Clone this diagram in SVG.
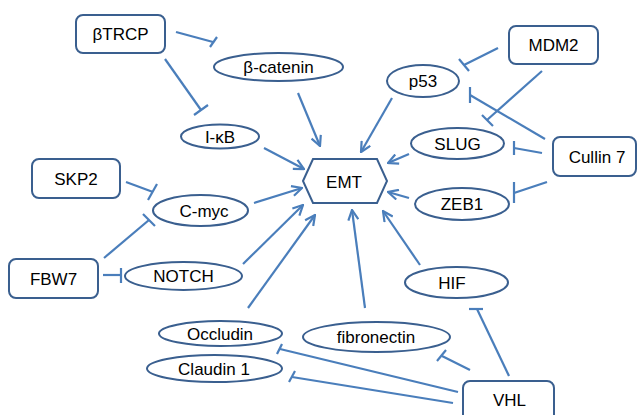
<svg xmlns="http://www.w3.org/2000/svg" width="638" height="415" viewBox="0 0 638 415">
<defs>
<style>
.n{fill:#fff;stroke:#3a5f8f;stroke-width:2}
.t{font-family:"Liberation Sans",Arial,sans-serif;font-size:17px;fill:#000;text-anchor:middle}
.c{stroke:#4a7ebb;stroke-width:2.2;fill:none}
.a{marker-end:url(#arr)}
</style>
<marker id="arr" viewBox="0 0 12 12" refX="11" refY="6" markerWidth="12" markerHeight="12" orient="auto" markerUnits="userSpaceOnUse">
<path d="M1,1 L11,6 L1,11" fill="none" stroke="#4a7ebb" stroke-width="2.2"/>
</marker>
</defs>
<rect width="638" height="415" fill="#fff"/>
<g id="connectors">
<line class="c a" x1="298" y1="93" x2="320" y2="146"/>
<line class="c a" x1="264" y1="148" x2="304" y2="169"/>
<line class="c a" x1="392" y1="98" x2="361" y2="152"/>
<line class="c a" x1="409" y1="154" x2="388" y2="163"/>
<line class="c a" x1="409" y1="198" x2="388" y2="192"/>
<line class="c a" x1="420" y1="265" x2="383" y2="211"/>
<line class="c a" x1="254" y1="203" x2="302" y2="188"/>
<line class="c a" x1="243" y1="264" x2="303" y2="205"/>
<line class="c a" x1="248" y1="308" x2="315" y2="215"/>
<line class="c a" x1="365" y1="308" x2="352" y2="210"/>
<line class="c" x1="176" y1="32" x2="213" y2="42"/><line class="c" x1="210" y1="47" x2="217" y2="37"/>
<line class="c" x1="165" y1="59" x2="201" y2="110"/><line class="c" x1="194" y1="115" x2="208" y2="105"/>
<line class="c" x1="498" y1="48" x2="464" y2="65"/><line class="c" x1="459" y1="59" x2="469" y2="71"/>
<line class="c" x1="542" y1="71" x2="487" y2="120"/><line class="c" x1="482" y1="115" x2="493" y2="126"/>
<line class="c" x1="545" y1="139" x2="470" y2="95"/><line class="c" x1="470" y1="87" x2="470" y2="103"/>
<line class="c" x1="542" y1="153" x2="514" y2="148"/><line class="c" x1="514" y1="141" x2="514" y2="155"/>
<line class="c" x1="547" y1="182" x2="514" y2="193"/><line class="c" x1="514" y1="182" x2="514" y2="203"/>
<line class="c" x1="126" y1="182" x2="153" y2="192"/><line class="c" x1="148" y1="200" x2="157" y2="184"/>
<line class="c" x1="104" y1="258" x2="149" y2="220"/><line class="c" x1="143" y1="214" x2="155" y2="226"/>
<line class="c" x1="103" y1="275" x2="121" y2="275"/><line class="c" x1="121" y1="268" x2="121" y2="283" stroke-width="3"/>
<line class="c" x1="509" y1="376" x2="477" y2="309"/><line class="c" x1="469" y1="309" x2="483" y2="309" stroke-width="3"/>
<line class="c" x1="470" y1="370" x2="442" y2="356"/><line class="c" x1="437" y1="361" x2="446" y2="350"/>
<line class="c" x1="458" y1="392" x2="280" y2="349"/><line class="c" x1="277" y1="354" x2="282" y2="344"/>
<line class="c" x1="453" y1="403" x2="292" y2="377"/><line class="c" x1="289" y1="382" x2="295" y2="371"/>
</g>
<g id="EMT"><polygon class="n" points="303,181 313,159 377,159 387,181 377,203 313,203"/><text class="t" x="344" y="188">EMT</text></g>
<g id="bTRCP"><rect class="n" x="76" y="15" width="89" height="38" rx="7"/><text class="t" x="120.5" y="40">βTRCP</text></g>
<g id="b-catenin"><ellipse class="n" cx="278.5" cy="67" rx="64.5" ry="14"/><text class="t" x="278.5" y="73">β-catenin</text></g>
<g id="IkB"><ellipse class="n" cx="220" cy="136.5" rx="39" ry="12"/><text class="t" x="220" y="142.5">I-κB</text></g>
<g id="MDM2"><rect class="n" x="509" y="26" width="89" height="38" rx="7"/><text class="t" x="553.5" y="51">MDM2</text></g>
<g id="p53"><ellipse class="n" cx="423" cy="81" rx="36" ry="16"/><text class="t" x="423" y="87">p53</text></g>
<g id="SLUG"><ellipse class="n" cx="457.5" cy="143.5" rx="46.5" ry="15.5"/><text class="t" x="457.5" y="149.5">SLUG</text></g>
<g id="Cullin7"><rect class="n" x="553" y="137" width="83" height="39" rx="7"/><text class="t" x="597" y="162.5">Cullin 7</text></g>
<g id="ZEB1"><ellipse class="n" cx="462" cy="204" rx="47" ry="16"/><text class="t" x="462" y="210">ZEB1</text></g>
<g id="SKP2"><rect class="n" x="32" y="159" width="88" height="39" rx="7"/><text class="t" x="76" y="184.5">SKP2</text></g>
<g id="C-myc"><ellipse class="n" cx="200.5" cy="210.5" rx="47.5" ry="15.5"/><text class="t" x="204" y="216.5">C-myc</text></g>
<g id="FBW7"><rect class="n" x="9" y="259" width="89" height="39" rx="7"/><text class="t" x="53.5" y="284.5">FBW7</text></g>
<g id="NOTCH"><ellipse class="n" cx="183.5" cy="276" rx="58.5" ry="14"/><text class="t" x="183.5" y="282">NOTCH</text></g>
<g id="HIF"><ellipse class="n" cx="456.5" cy="282.5" rx="51.5" ry="15.5"/><text class="t" x="452" y="288.5">HIF</text></g>
<g id="Occludin"><ellipse class="n" cx="220.5" cy="333.5" rx="61.5" ry="12.5"/><text class="t" x="220" y="339.5">Occludin</text></g>
<g id="Claudin1"><ellipse class="n" cx="214.5" cy="368.5" rx="67.5" ry="13.5"/><text class="t" x="214" y="374.5">Claudin 1</text></g>
<g id="fibronectin"><ellipse class="n" cx="376.5" cy="337" rx="73.5" ry="15"/><text class="t" x="376" y="343">fibronectin</text></g>
<g id="VHL"><rect class="n" x="463" y="381" width="91" height="42" rx="7"/><text class="t" x="509.5" y="406">VHL</text></g>
</svg>
